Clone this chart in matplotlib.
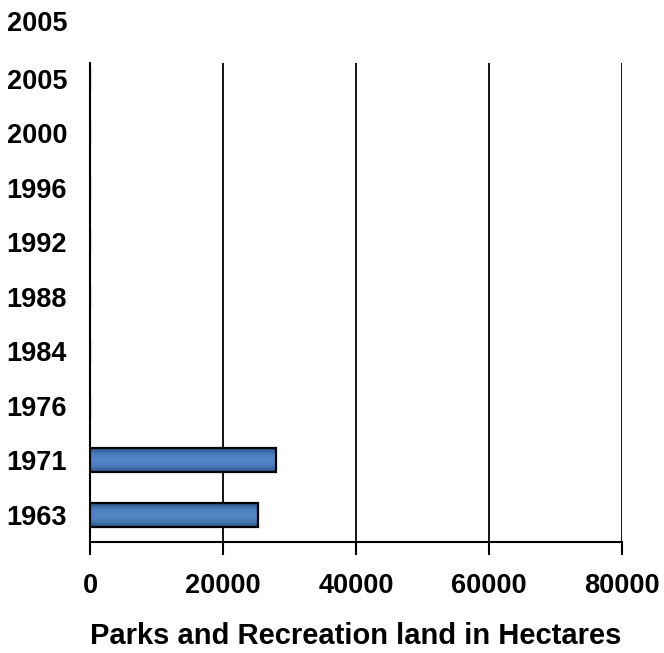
import numpy as np
import matplotlib
matplotlib.use("Agg")
import matplotlib.pyplot as plt
import matplotlib.transforms as mtransforms
from matplotlib.colors import LinearSegmentedColormap

# ── Data ────────────────────────────────────────────────────────────────────
years = ["1963", "1971", "1976", "1984", "1988", "1992", "1996", "2000", "2005", "2005"]
hectares = [25300, 27950, 0, 0, 0, 0, 0, 0, 0, 0]
x_ticks = [0, 20000, 40000, 60000, 80000]
x_label = "Parks and Recreation land in Hectares"

plt.rcParams["font.family"] = ["Liberation Sans", "DejaVu Sans"]
plt.rcParams["font.weight"] = "bold"

fig = plt.figure(figsize=(6.64, 6.53), dpi=100)
ax = fig.add_axes([90 / 664, 111 / 653, 532 / 664, 479 / 653])

pos = list(range(len(years)))
bars = ax.barh(pos, hectares, height=0.44, color="#4a7cba", edgecolor="black",
               linewidth=1.6, zorder=3)

# Excel-style vertical shading inside each bar (dark edges, light middle).
shade = LinearSegmentedColormap.from_list(
    "bar_shade", ["#2b5385", "#4b7dbd", "#5489c8", "#4a7bb9", "#2c5486"])
grad = np.linspace(0, 1, 64).reshape(-1, 1)
for b in bars:
    if b.get_width() <= 0:
        continue
    x0, y0 = b.get_x(), b.get_y()
    im = ax.imshow(grad, cmap=shade, aspect="auto", origin="upper",
                   extent=(x0, x0 + b.get_width(), y0, y0 + b.get_height()),
                   zorder=3.5, interpolation="bicubic")
    im.set_clip_path(b)
    b.set_facecolor("none")
    b.set_zorder(4)

ax.set_xlim(0, 80000)
ax.set_ylim(-0.5, -0.5 + 479 / 54.5)

ax.set_xticks(x_ticks)
ax.set_xticklabels([str(t) for t in x_ticks], fontsize=19.5, fontweight="bold")
ax.tick_params(axis="x", length=9, width=1.5, pad=13, color="black")

# The last category sits above the plot area, so place it by hand.
ax.set_yticks(pos[:-1])
ax.set_yticklabels(years[:-1], fontsize=19.5, fontweight="bold")
ax.tick_params(axis="y", length=0, pad=16.5)
trans = mtransforms.blended_transform_factory(ax.transAxes, ax.transData)
ax.text(-23 / 532, pos[-1], years[-1], transform=trans, ha="right", va="center",
        fontsize=19.5, fontweight="bold", clip_on=False)

ax.grid(axis="x", color="black", linewidth=1.3, zorder=1)
ax.set_axisbelow(True)
for side in ("top", "right"):
    ax.spines[side].set_visible(False)
for side in ("left", "bottom"):
    ax.spines[side].set_linewidth(1.5)

ax.set_xlabel(x_label, fontsize=21, fontweight="bold", labelpad=17)

fig.savefig("out.png", dpi=100)
